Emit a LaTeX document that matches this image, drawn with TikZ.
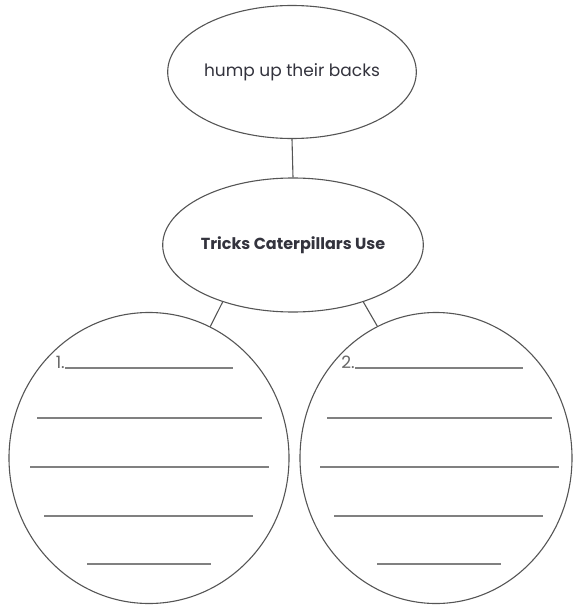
\documentclass[tikz,border=0pt]{standalone}
\usepackage{fontspec}
\setmainfont{Poppins}
\usetikzlibrary{shapes.geometric}
\definecolor{ink}{HTML}{33333D}
\definecolor{edge}{HTML}{555555}
\definecolor{wl}{HTML}{808080}
\definecolor{numc}{HTML}{666666}
\tikzset{
  oval/.style={ellipse, draw=edge, line width=1.1pt, inner sep=0pt, text=ink},
  conn/.style={draw=edge, line width=1.1pt},
  wline/.style={draw=wl, line width=1.6pt},
  numlbl/.style={text=numc, inner sep=0pt, font=\fontsize{17}{17}\selectfont}
}
\begin{document}
\begin{tikzpicture}[x=1pt,y=-1pt]
\useasboundingbox (0,0) rectangle (573,607);
\node[oval, minimum width=216pt, minimum height=133pt, font=\fontsize{17}{17}\selectfont] (top) at (292,72) {hump up their backs};
\node[oval, minimum width=214pt, minimum height=134pt, font=\fontsize{16}{16}\selectfont\bfseries] (mid) at (293,245) {Tricks Caterpillars Use};
\node[oval, minimum width=280pt, minimum height=291pt] (left) at (149,458) {};
\node[oval, minimum width=272pt, minimum height=291pt] (right) at (436,458) {};
\draw[conn] (top.south) -- (mid.north);
\draw[conn] (mid.219) -- (left.65);
\draw[conn] (mid.321) -- (right.114);
% writing lines, left
\node[numlbl, anchor=base east] (n1) at (65,368) {1.};
\draw[wline] (65,368) -- (233,368);
\draw[wline] (37,418) -- (262,418);
\draw[wline] (30,467) -- (269,467);
\draw[wline] (44,516) -- (253,516);
\draw[wline] (87,564) -- (211,564);
% writing lines, right
\node[numlbl, anchor=base east] (n2) at (355,368) {2.};
\draw[wline] (355,368) -- (523,368);
\draw[wline] (327,418) -- (552,418);
\draw[wline] (320,467) -- (559,467);
\draw[wline] (334,516) -- (543,516);
\draw[wline] (377,564) -- (501,564);
\end{tikzpicture}
\end{document}
